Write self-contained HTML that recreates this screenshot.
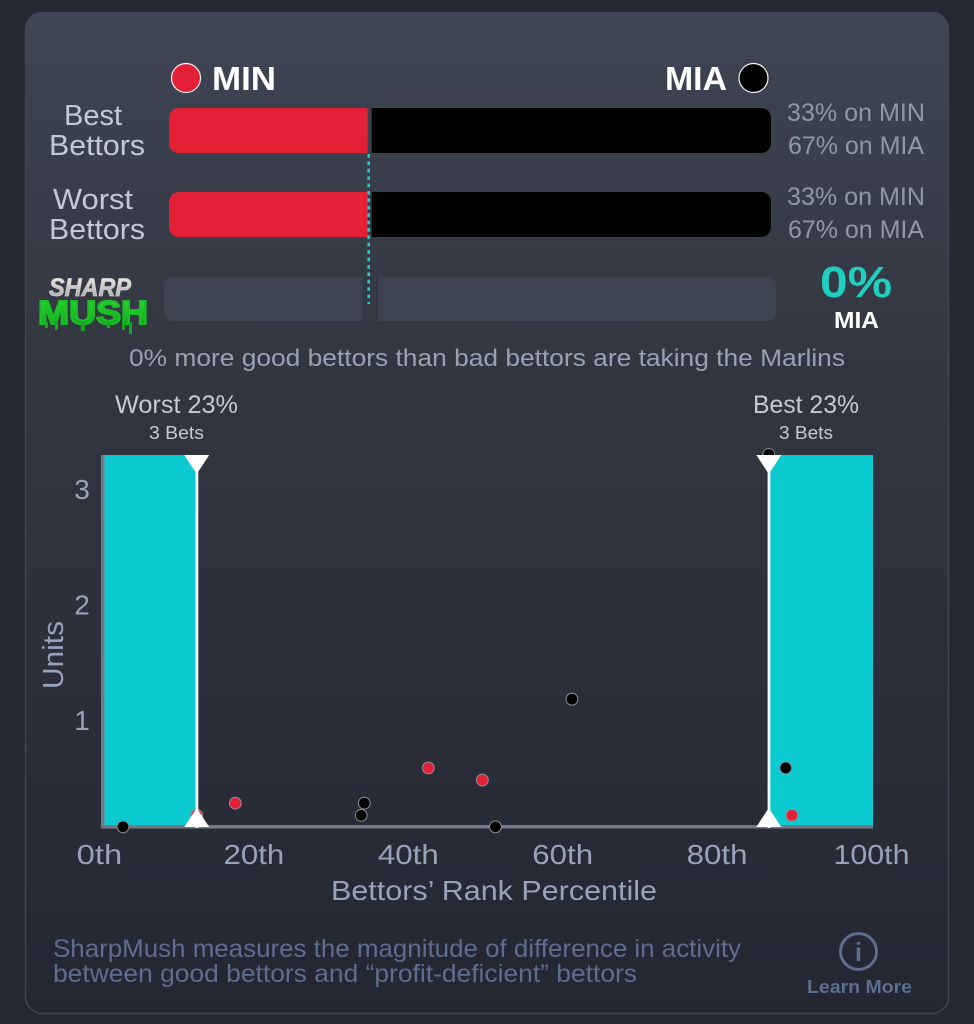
<!DOCTYPE html>
<html lang="en">
<head>
<meta charset="utf-8">
<title>SharpMush chart</title>
<style>
html,body{margin:0;padding:0;width:974px;height:1024px;overflow:hidden;background:#252833}
svg{display:block}
text{font-family:"Liberation Sans",sans-serif}
</style>
</head>
<body>
<svg id="root" xmlns="http://www.w3.org/2000/svg" width="974" height="1024" viewBox="0 0 974 1024">
  <defs>
    <linearGradient id="cardGrad" x1="0" y1="0" x2="0" y2="1">
      <stop offset="0" stop-color="#3f4555"/>
      <stop offset="0.36" stop-color="#32363f"/>
      <stop offset="0.4" stop-color="#31353f"/>
      <stop offset="0.75" stop-color="#2a2d38"/>
      <stop offset="1" stop-color="#232732"/>
    </linearGradient>
    <linearGradient id="sharpGrad" x1="0" y1="0" x2="0" y2="1">
      <stop offset="0" stop-color="#f4f4f4"/>
      <stop offset="1" stop-color="#9a9a9a"/>
    </linearGradient>
    <linearGradient id="mushGrad" x1="0" y1="0" x2="0" y2="1">
      <stop offset="0" stop-color="#32e032"/>
      <stop offset="1" stop-color="#0f9c1a"/>
    </linearGradient>
  </defs>
  <rect width="974" height="1024" fill="#252833"/>
  <rect x="25.5" y="12.5" width="923" height="1001" rx="17" fill="url(#cardGrad)" stroke="#3f4556" stroke-width="1.5"/>

  <circle cx="186" cy="78" r="14.5" fill="#e32036" stroke="#f2f2f2" stroke-width="1.2"/>
  <text x="212" y="90" font-size="33" font-weight="700" fill="#fff" textLength="64" lengthAdjust="spacingAndGlyphs">MIN</text>
  <text x="665" y="90" font-size="33" font-weight="700" fill="#fff" textLength="62" lengthAdjust="spacingAndGlyphs">MIA</text>
  <circle cx="753.5" cy="78" r="14.5" fill="#000" stroke="#f2f2f2" stroke-width="1.2"/>

  <g fill="#c4c9d6" font-size="29">
    <text x="64" y="125" textLength="58" lengthAdjust="spacingAndGlyphs">Best</text>
    <text x="49" y="155" textLength="96" lengthAdjust="spacingAndGlyphs">Bettors</text>
    <text x="53" y="209" textLength="80" lengthAdjust="spacingAndGlyphs">Worst</text>
    <text x="49" y="239" textLength="96" lengthAdjust="spacingAndGlyphs">Bettors</text>
  </g>

  <g id="bars"></g>

  <g fill="#8f97a8" font-size="25">
    <text x="787" y="121" textLength="138" lengthAdjust="spacingAndGlyphs">33% on MIN</text>
    <text x="788" y="154" textLength="136" lengthAdjust="spacingAndGlyphs">67% on MIA</text>
    <text x="787" y="205" textLength="138" lengthAdjust="spacingAndGlyphs">33% on MIN</text>
    <text x="788" y="238" textLength="136" lengthAdjust="spacingAndGlyphs">67% on MIA</text>
  </g>

  <rect x="164" y="277" width="612" height="44" rx="9" fill="#3d4351"/>
  <rect x="363" y="277" width="15" height="44" fill="#343944"/>
  <line x1="368.7" y1="154" x2="368.7" y2="304" stroke="#1fcfc5" stroke-width="2.6" stroke-dasharray="3.7 3.7"/>

  <g>
    <text x="49" y="296" font-size="25" font-weight="700" font-style="italic" fill="url(#sharpGrad)" stroke="#cfcfcf" stroke-width="0.8" textLength="82" lengthAdjust="spacingAndGlyphs">SHARP</text>
    <text x="38" y="324" font-size="33" font-weight="700" fill="url(#mushGrad)" stroke="#19c026" stroke-width="2" textLength="110" lengthAdjust="spacingAndGlyphs">MUSH</text>
    <g fill="#14a81f">
      <rect x="45" y="322" width="3" height="6"/><rect x="55" y="322" width="3" height="8"/><rect x="81" y="322" width="4" height="9"/>
      <rect x="107" y="322" width="3" height="6"/><rect x="122" y="322" width="3" height="8"/><rect x="129" y="322" width="3" height="12"/>
    </g>
  </g>

  <text x="856" y="297" text-anchor="middle" font-size="44" font-weight="700" fill="#1fcfc0" textLength="72" lengthAdjust="spacingAndGlyphs">0%</text>
  <text x="856.5" y="328" text-anchor="middle" font-size="23" font-weight="700" fill="#fff" textLength="45" lengthAdjust="spacingAndGlyphs">MIA</text>
  <text x="129" y="366" font-size="24" fill="#98a1b5" textLength="716" lengthAdjust="spacingAndGlyphs">0% more good bettors than bad bettors are taking the Marlins</text>

  <text x="115" y="413" font-size="25" fill="#c4c9d6" textLength="123" lengthAdjust="spacingAndGlyphs">Worst 23%</text>
  <text x="149" y="439" font-size="18" fill="#c4c9d6" textLength="55" lengthAdjust="spacingAndGlyphs">3 Bets</text>
  <text x="753" y="413" font-size="25" fill="#c4c9d6" textLength="106" lengthAdjust="spacingAndGlyphs">Best 23%</text>
  <text x="779" y="439" font-size="18" fill="#c4c9d6" textLength="54" lengthAdjust="spacingAndGlyphs">3 Bets</text>

  <g id="chart"></g>

  <text x="0" y="0" transform="translate(63,655) rotate(-90)" text-anchor="middle" font-size="29" fill="#98a3ba" textLength="68" lengthAdjust="spacingAndGlyphs">Units</text>
  <text x="331" y="900" font-size="28" fill="#98a3ba" textLength="326" lengthAdjust="spacingAndGlyphs">Bettors’ Rank Percentile</text>

  <text x="53" y="957" font-size="25" fill="#5f6d8e" textLength="688" lengthAdjust="spacingAndGlyphs">SharpMush measures the magnitude of difference in activity</text>
  <text x="53" y="982" font-size="25" fill="#5f6d8e" textLength="584" lengthAdjust="spacingAndGlyphs">between good bettors and “profit-deficient” bettors</text>

  <g>
    <circle cx="858.5" cy="951.5" r="18" fill="none" stroke="#5f6d8e" stroke-width="3"/>
    <text x="858.5" y="961" text-anchor="middle" font-size="26" font-weight="700" font-family="Liberation Serif, serif" fill="#5f6d8e">i</text>
    <text x="807" y="993" font-size="18" font-weight="700" fill="#5f6d8e" textLength="105" lengthAdjust="spacingAndGlyphs">Learn More</text>
  </g>
</svg>
<script>
var barRows = ["best", "worst"];
var minShare = [33, 33];

var xTickValues = [0, 20, 40, 60, 80, 100];
var xTickLabels = ["0th", "20th", "40th", "60th", "80th", "100th"];
var yTickValues = [1, 2, 3];
var yTickLabels = ["1", "2", "3"];

var lowerCutoff = [12.4];
var upperCutoff = [86.5];

var minPercentiles = [12.4, 17.4, 42.4, 49.4, 89.5];
var minUnits = [0.175, 0.28, 0.585, 0.48, 0.175];
var miaPercentiles = [86.5, 2.85, 33.7, 34.1, 51.1, 61, 88.7];
var miaUnits = [3.3, 0.075, 0.175, 0.28, 0.075, 1.18, 0.585];

var SVG_NS = "http://www.w3.org/2000/svg";
function make(parent, tag, attrs, content) {
  var el = document.createElementNS(SVG_NS, tag);
  for (var k in attrs) { el.setAttribute(k, attrs[k]); }
  if (content !== undefined) { el.textContent = content; }
  parent.appendChild(el);
  return el;
}
function xScale(v) { return 101 + v * 7.72; }
function yScale(v) { return 720 - (v - 1) * 115.5; }

var barsGroup = document.getElementById("bars");
var rowTops = [108, 192];
function shareX(p) { return 169 + p / 100 * 602; }
barRows.forEach(function (row, i) {
  var top = rowTops[i];
  var split = shareX(minShare[i]);
  var red = make(barsGroup, "path", {
    d: "M" + split + " " + top + "H179a10 10 0 0 0-10 10v25a10 10 0 0 0 10 10H" + split + "Z",
    fill: "#e32036"
  });
  
  
  var blackStart = split + 4;
  var black = make(barsGroup, "path", {
    d: "M" + blackStart + " " + top + "H761a10 10 0 0 1 10 10v25a10 10 0 0 1-10 10H" + blackStart + "Z",
    fill: "#000"
  });
  
  
});

var chart = document.getElementById("chart");
var plotTop = 455;
var plotBottom = 826;

var leftBand = make(chart, "rect", {
  x: xScale(0) + 3, y: plotTop,
  width: xScale(lowerCutoff[0]) - xScale(0) - 3, height: plotBottom - plotTop, fill: "#0bcbd0"
});



var rightBand = make(chart, "rect", {
  x: xScale(upperCutoff[0]), y: plotTop,
  width: xScale(100) - xScale(upperCutoff[0]), height: plotBottom - plotTop, fill: "#0bcbd0"
});



var yAxis = make(chart, "rect", { x: xScale(0), y: plotTop, width: 3.5, height: plotBottom - plotTop + 2, fill: "#767985" });



var xAxis = make(chart, "rect", { x: xScale(0), y: plotBottom - 1, width: xScale(100) - xScale(0), height: 3.5, fill: "#767985" });



xTickValues.forEach(function (v, i) {
  var label = xTickLabels[i];
  var t = make(chart, "text", {
    x: xScale(v) - 1.5, y: 864, "text-anchor": "middle", "font-size": 28, fill: "#98a3ba",
    textLength: label.length * 15.2, lengthAdjust: "spacingAndGlyphs"
  }, label);
  
  
});

yTickValues.forEach(function (v, i) {
  var t = make(chart, "text", {
    x: 82, y: yScale(v) + 10, "text-anchor": "middle", "font-size": 28, fill: "#98a3ba"
  }, yTickLabels[i]);
  
  
});

minPercentiles.forEach(function (p, i) {
  var dot = make(chart, "circle", {
    cx: xScale(p), cy: yScale(minUnits[i]), r: 5.9, fill: "#e32036", stroke: "#9a8f96", "stroke-width": 1
  });
  
  
});

miaPercentiles.forEach(function (p, i) {
  var dot = make(chart, "circle", {
    cx: xScale(p), cy: yScale(miaUnits[i]), r: 5.9, fill: "#000", stroke: "#8a8d96", "stroke-width": 1
  });
  
  
});

[lowerCutoff[0], upperCutoff[0]].forEach(function (c, i) {
  var x = xScale(c);
  var side = i === 0 ? 'lower' : 'upper';
  var line = make(chart, "rect", { x: x - 1.2, y: plotTop, width: 2.8, height: plotBottom - plotTop + 2, fill: "#f5f5f5" });
  
  
  var top = make(chart, "polygon", {
    points: (x - 12.5) + "," + plotTop + " " + (x + 12.5) + "," + plotTop + " " + x + "," + (plotTop + 19),
    fill: "#fff"
  });
  
  
  var bottom = make(chart, "polygon", {
    points: (x - 12.5) + "," + (plotBottom + 1) + " " + (x + 12.5) + "," + (plotBottom + 1) + " " + x + "," + (plotBottom - 18),
    fill: "#fff"
  });
  
  
});
</script>
</body>
</html>
